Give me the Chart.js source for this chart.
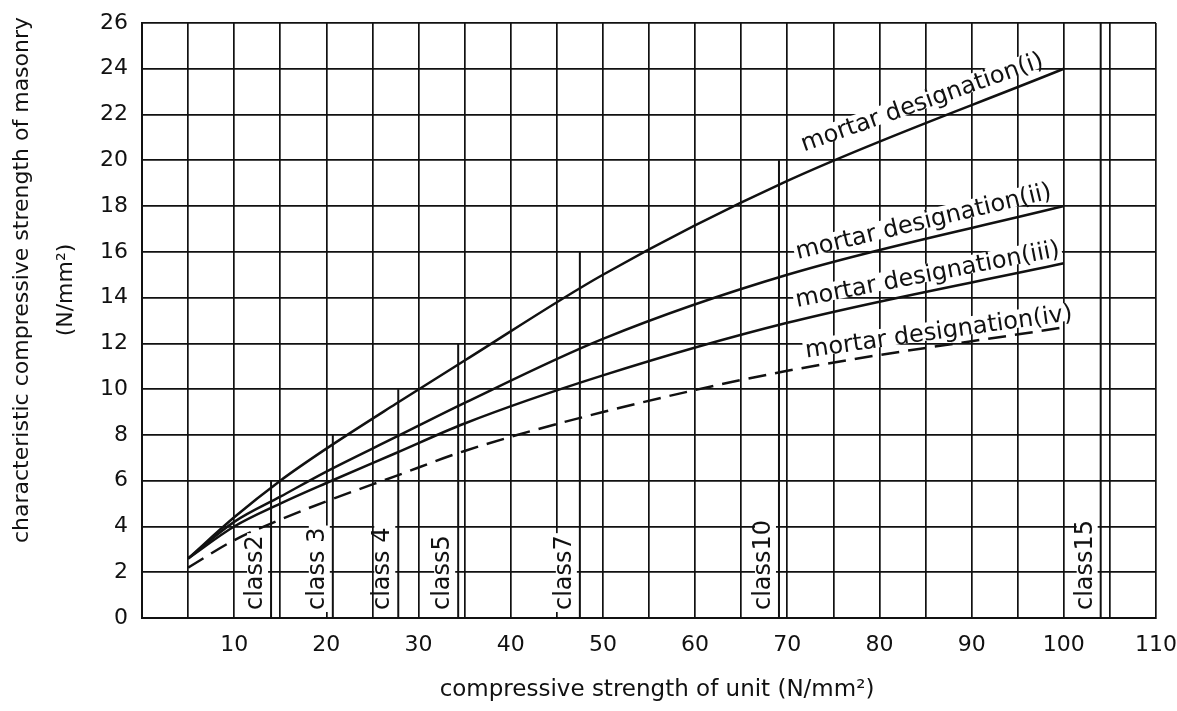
<!DOCTYPE html>
<html>
<head>
<meta charset="utf-8">
<script src="https://cdn.jsdelivr.net/npm/chart.js@4/dist/chart.umd.min.js"></script>
<style>
  body { margin: 0; background: #fff; }
  canvas { display: block; }
</style>
</head>
<body>
<canvas id="masonryChart" width="1177" height="711"></canvas>
<script>
// unit strength (N/mm2) where the curves were read
const unitStrength = [5, 10, 15, 20, 27.5, 35, 50, 70, 100];

// characteristic strength of masonry for each mortar designation
const mortarI   = [2.6, 4.4, 6.0, 7.4, 9.35, 11.25, 15.0, 19.1, 24.0];
const mortarII  = [2.6, 4.2, 5.3, 6.4, 7.9, 9.4, 12.2, 15.0, 18.0];
const mortarIII = [2.6, 4.0, 5.0, 5.9, 7.2, 8.5, 10.6, 12.9, 15.5];
const mortarIV  = [2.2, 3.4, 4.3, 5.1, 6.2, 7.3, 9.0, 10.8, 12.7];

// brick classes: name, unit strength, height of the marker line
const classNames = ['class2', 'class 3', 'class 4', 'class5', 'class7', 'class10', 'class15'];
const classX     = [14, 20.7, 27.8, 34.3, 47.5, 69.1, 104];
const classTop   = [6, 8, 10, 12, 16, 20, 26];

const xTickLabels = [10, 20, 30, 40, 50, 60, 70, 80, 90, 100, 110];

const FONT = '"DejaVu Sans", sans-serif';
const INK = '#111';

function pts(ys) {
    return unitStrength.map((x, i) => ({ x: x, y: ys[i] }));
}

function curve(label, ys, dash) {
    return {
        label: label,
        data: pts(ys),
        borderColor: INK,
        borderWidth: 2.5,
        borderDash: dash || [],
        pointRadius: 0,
        cubicInterpolationMode: 'monotone',
        fill: false
    };
}

const datasets = [
    curve('mortar designation(i)', mortarI),
    curve('mortar designation(ii)', mortarII),
    curve('mortar designation(iii)', mortarIII),
    curve('mortar designation(iv)', mortarIV, [18, 9])
];

// vertical class markers
classNames.forEach((name, i) => {
    datasets.push({
        label: name,
        data: [{ x: classX[i], y: 0 }, { x: classX[i], y: classTop[i] }],
        borderColor: INK,
        borderWidth: 2,
        pointRadius: 0,
        tension: 0
    });
});

// label anchors along the curves (data coords) and text angle in degrees
const curveLabels = [
    { text: 'mortar designation(i)',   x: 71.9, y: 20.3, angle: 19.5 },
    { text: 'mortar designation(ii)',  x: 71.2, y: 15.6, angle: 13.5 },
    { text: 'mortar designation(iii)', x: 71.1, y: 13.5, angle: 11 },
    { text: 'mortar designation(iv)',  x: 72.1, y: 11.3, angle: 8 }
];

const labelPlugin = {
    id: 'labelPlugin',
    afterDatasetsDraw(chart) {
        const ctx = chart.ctx;
        const xs = chart.scales.x;
        const ys = chart.scales.y;
        ctx.save();
        ctx.fillStyle = INK;

        // class labels, rotated, with white backing that breaks the grid
        ctx.font = '24px ' + FONT;
        classNames.forEach((name, i) => {
            const px = xs.getPixelForValue(classX[i]) - 3;
            const py = ys.getPixelForValue(0) - 8;
            const w = ctx.measureText(name).width;
            ctx.save();
            ctx.translate(px, py);
            ctx.rotate(-Math.PI / 2);
            ctx.fillStyle = '#fff';
            ctx.fillRect(-2, -21, w + 4, 21);
            ctx.fillStyle = INK;
            ctx.textAlign = 'left';
            ctx.textBaseline = 'bottom';
            ctx.fillText(name, 0, 0);
            ctx.restore();
        });

        // mortar labels along the curves
        curveLabels.forEach(l => {
            ctx.save();
            ctx.translate(xs.getPixelForValue(l.x), ys.getPixelForValue(l.y));
            ctx.rotate(-l.angle * Math.PI / 180);
            const w = ctx.measureText(l.text).width;
            ctx.fillStyle = '#fff';
            ctx.fillRect(-2, -20, w + 4, 18);
            ctx.fillStyle = INK;
            ctx.textAlign = 'left';
            ctx.textBaseline = 'alphabetic';
            ctx.fillText(l.text, 0, -2);
            ctx.restore();
        });

        // axis titles
        ctx.font = '23px ' + FONT;
        ctx.textAlign = 'center';
        ctx.textBaseline = 'middle';
        ctx.fillText('compressive strength of unit (N/mm²)', 657, 690);

        ctx.font = '22px ' + FONT;
        ctx.save();
        ctx.translate(22, 280);
        ctx.rotate(-Math.PI / 2);
        ctx.fillText('characteristic compressive strength of masonry', 0, 0);
        ctx.restore();
        ctx.save();
        ctx.translate(66, 290);
        ctx.rotate(-Math.PI / 2);
        ctx.fillText('(N/mm²)', 0, 0);
        ctx.restore();

        ctx.restore();
    }
};

new Chart(document.getElementById('masonryChart'), {
    type: 'line',
    data: { datasets: datasets },
    options: {
        responsive: false,
        animation: false,
        layout: { padding: { left: 0, top: 23, right: 21, bottom: 0 } },
        plugins: {
            legend: { display: false },
            tooltip: { enabled: false }
        },
        scales: {
            x: {
                type: 'linear',
                min: 0,
                max: 110,
                afterFit: s => { s.height = 93; s.paddingRight = 0; s.paddingLeft = 0; },
                border: { display: true, color: INK, width: 2 },
                grid: { color: INK, lineWidth: 1.7, drawTicks: false },
                ticks: {
                    stepSize: 5,
                    autoSkip: false,
                    maxRotation: 0,
                    padding: 14,
                    color: INK,
                    font: { family: FONT, size: 22 },
                    callback: v => xTickLabels.includes(v) ? String(v) : ''
                }
            },
            y: {
                min: 0,
                max: 26,
                afterFit: s => { s.width = 142; s.paddingTop = 0; s.paddingBottom = 0; },
                border: { display: true, color: INK, width: 2 },
                grid: { color: INK, lineWidth: 1.7, drawTicks: false },
                ticks: {
                    stepSize: 2,
                    padding: 14,
                    color: INK,
                    font: { family: FONT, size: 22 }
                }
            }
        }
    },
    plugins: [labelPlugin]
});
</script>
</body>
</html>
